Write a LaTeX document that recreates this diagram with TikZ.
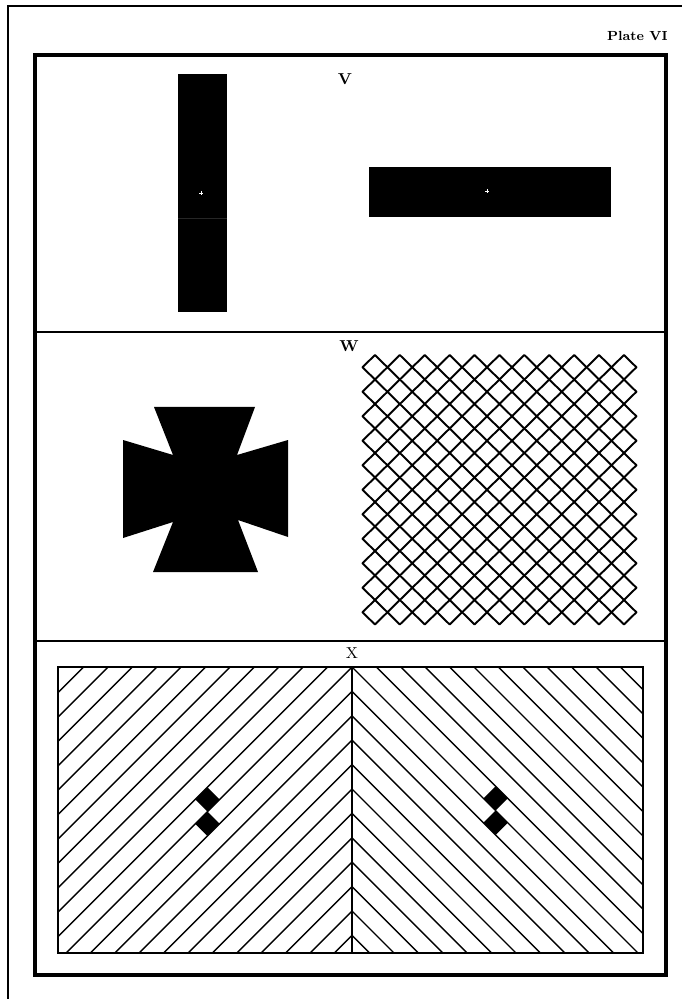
\documentclass[tikz,border=0pt]{standalone}
\usetikzlibrary{positioning}
\tikzset{
  every picture/.style={x=0.02cm, y=-0.02cm, line cap=butt},
  edge/.style={line width=1.1pt},
  frame/.style={line width=2.2pt, line join=miter},
  divider/.style={line width=1.6pt},
  mesh/.style={line width=1.1pt, line join=round},
  hatch/.style={line width=0.8pt},
  plate/.style={font=\fontsize{7.5}{9}\selectfont\bfseries, inner sep=0pt},
  tag/.style={font=\fontsize{9}{10}\selectfont\bfseries, inner sep=0pt},
  tagrm/.style={font=\fontsize{9}{10}\selectfont, inner sep=0pt},
  pin/.style={draw=white, line width=0.5pt},
}

\begin{document}
\begin{tikzpicture}
  \useasboundingbox (0,0) rectangle (682,999);
  % page edge and plate frame
  \draw[edge] (8,999) -- (8,6) -- (682,6);
  \node[plate, anchor=east] (plate) at (668,36) {Plate VI};
  \draw[frame] (35,55) rectangle (666,975);
  \draw[divider] (35,332) -- (666,332);
  \draw[divider] (35,641) -- (666,641);

  % V: two bars
  \node[tag] (v) at (345,79) {V};
  \fill (178,74) rectangle (227,312);
  \draw[black!85, line width=0.3pt] (178,218) -- (227,218);
  \draw[pin] (199,193) -- (203,193) (201,191) -- (201,195);
  \fill (369,167) rectangle (611,217);
  \draw[pin] (485,191) -- (489,191) (487,189) -- (487,193);

  % W: cross and lattice
  \node[tag] (w) at (349,346) {W};
  \fill (154,407) -- (255,407) -- (237,455) -- (288,440) -- (288,537) -- (238,520)
     -- (258,572) -- (153,572) -- (173,522) -- (123,538) -- (123,440) -- (173,455) -- cycle;
  \foreach \i in {0,...,10}
    \foreach \j in {0,...,10}
      \draw[mesh] ({374.95+\i*24.9},{355+\j*24.5}) -- ++(12.45,12.25) -- ++(-12.45,12.25)
        -- ++(-12.45,-12.25) -- cycle;

  % X: herringbone
  \node[tagrm] (x) at (352,653) {X};
  \begin{scope}
    \clip (58,667) rectangle (352,953);
    \foreach \k in {-12,...,11}
      \draw[hatch] ({352+40},{667+\k*24.4-40}) -- ({352-330},{667+\k*24.4+330});
  \end{scope}
  \begin{scope}
    \clip (352,667) rectangle (643,953);
    \foreach \k in {-11,...,11}
      \draw[hatch] ({352-40},{667+\k*24.4-40}) -- ({352+330},{667+\k*24.4+330});
  \end{scope}
  \draw[hatch, line width=1pt] (58,667) rectangle (643,953);
  \draw[hatch, line width=1pt] (352,667) -- (352,953);
  % filled cells
  \foreach \cx/\cy in {207.4/799.4, 207.4/823.8, 495.6/798.4, 495.6/822.8}
    \fill (\cx,{\cy-12.2}) -- ++(12.2,12.2) -- ++(-12.2,12.2) -- ++(-12.2,-12.2) -- cycle;
\end{tikzpicture}
\end{document}
